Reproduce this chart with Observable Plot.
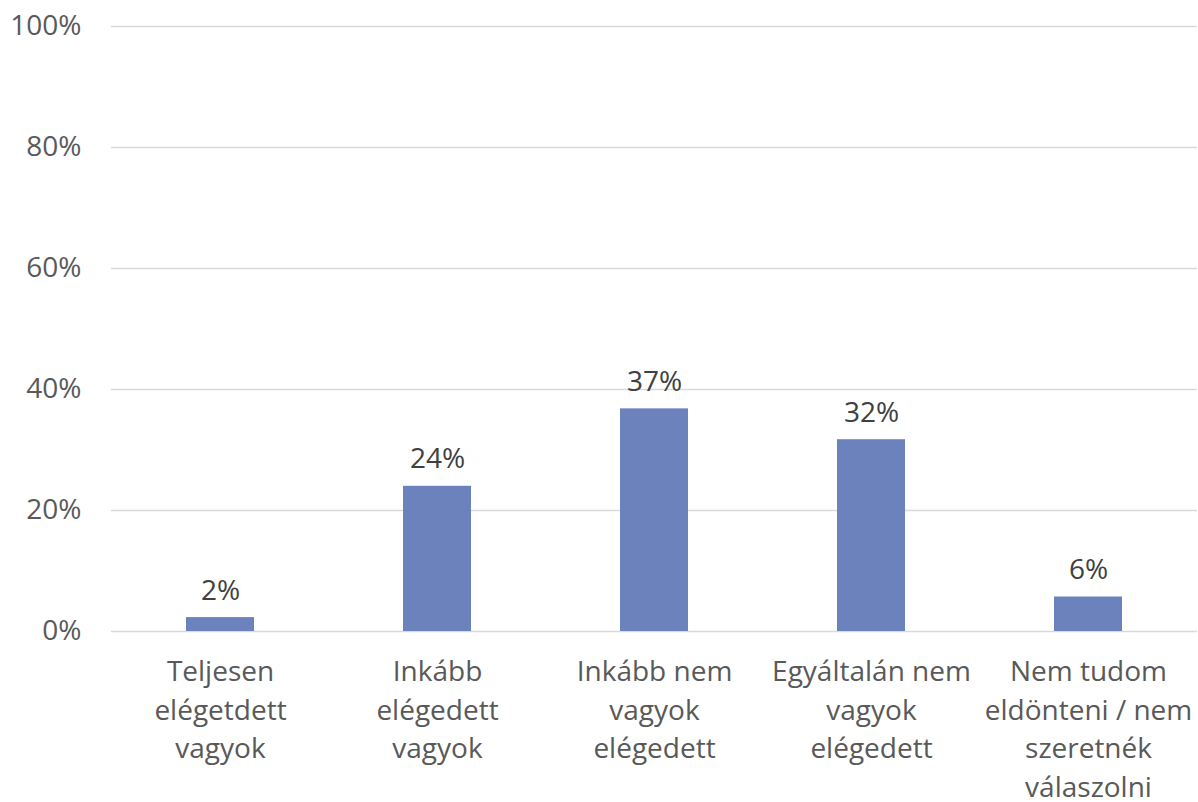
<!DOCTYPE html>
<html>
<head>
<meta charset="utf-8">
<script src="https://cdn.jsdelivr.net/npm/d3@7"></script>
<script src="https://cdn.jsdelivr.net/npm/@observablehq/plot@0.6"></script>
<style>
  html, body { margin: 0; padding: 0; background: #fff; }
  #chart { width: 1198px; height: 802px; }
</style>
</head>
<body>
<div id="chart"></div>
<script>
const categories = [
  "Teljesen\nelégetdett\nvagyok",
  "Inkább\nelégedett\nvagyok",
  "Inkább nem\nvagyok\nelégedett",
  "Egyáltalán nem\nvagyok\nelégedett",
  "Nem tudom\neldönteni / nem\nszeretnék\nválaszolni"
];
const values = [2.3, 24.0, 36.8, 31.7, 5.7];
const labels = ["2%", "24%", "37%", "32%", "6%"];
const yTicks = [0, 20, 40, 60, 80, 100];

const data = categories.map((c, i) => ({cat: c, value: values[i], label: labels[i]}));
const font = "'Open Sans', 'Noto Sans', sans-serif";

const chart = Plot.plot({
  width: 1198,
  height: 802,
  marginLeft: 111,
  marginRight: 1,
  marginTop: 26,
  marginBottom: 171,
  style: {fontFamily: font, background: "#fff"},
  x: {domain: categories, paddingInner: 0.685, paddingOuter: 0.3425, label: null},
  y: {domain: [0, 100], label: null},
  marks: [
    Plot.ruleY(yTicks, {stroke: "#d9d9d9", strokeWidth: 1.5}),
    Plot.barY(data, {x: "cat", y: "value", fill: "#6b82bd"}),
    Plot.text(data, {x: "cat", y: "value", text: "label", dy: -27, fontSize: 28, fill: "#404040", fontFamily: font}),
    Plot.axisY(yTicks, {tickSize: 0, tickPadding: 30, tickFormat: d => d + "%", fontSize: 28, fill: "#595959", color: "#595959", label: null, fontFamily: font}),
    Plot.axisX({tickSize: 0, tickPadding: 22, fontSize: 28, lineHeight: 1.38, fill: "#595959", color: "#595959", label: null, fontFamily: font, textAnchor: "middle"})
  ]
});
document.getElementById("chart").appendChild(chart);
</script>
</body>
</html>
